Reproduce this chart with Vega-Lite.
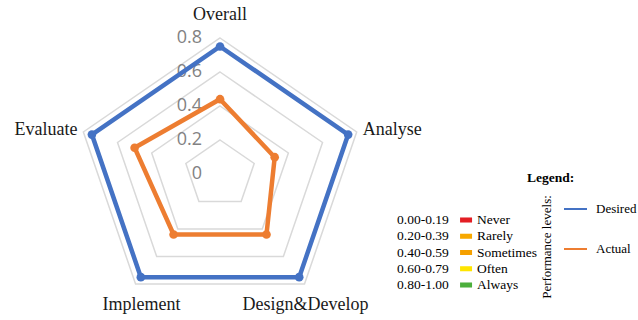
{
  "$schema": "https://vega.github.io/schema/vega-lite/v6.json",
  "width": 638,
  "height": 320,
  "autosize": {"type": "fit", "contains": "padding"},
  "padding": 0,
  "background": "white",
  "config": {"view": {"stroke": null}},
  "datasets": {
    "cats": [
      {"axis": "Overall", "k": 0},
      {"axis": "Analyse", "k": 1},
      {"axis": "Design&Develop", "k": 2},
      {"axis": "Implement", "k": 3},
      {"axis": "Evaluate", "k": 4}
    ],
    "grid": [
      {"level": 0.2, "k": 0}, {"level": 0.2, "k": 1}, {"level": 0.2, "k": 2}, {"level": 0.2, "k": 3}, {"level": 0.2, "k": 4},
      {"level": 0.4, "k": 0}, {"level": 0.4, "k": 1}, {"level": 0.4, "k": 2}, {"level": 0.4, "k": 3}, {"level": 0.4, "k": 4},
      {"level": 0.6, "k": 0}, {"level": 0.6, "k": 1}, {"level": 0.6, "k": 2}, {"level": 0.6, "k": 3}, {"level": 0.6, "k": 4},
      {"level": 0.8, "k": 0}, {"level": 0.8, "k": 1}, {"level": 0.8, "k": 2}, {"level": 0.8, "k": 3}, {"level": 0.8, "k": 4}
    ],
    "ticks": [{"level": 0}, {"level": 0.2}, {"level": 0.4}, {"level": 0.6}, {"level": 0.8}],
    "scores": [
      {"axis": "Overall", "k": 0, "series": "Desired", "value": 0.75},
      {"axis": "Analyse", "k": 1, "series": "Desired", "value": 0.75},
      {"axis": "Design&Develop", "k": 2, "series": "Desired", "value": 0.75},
      {"axis": "Implement", "k": 3, "series": "Desired", "value": 0.75},
      {"axis": "Evaluate", "k": 4, "series": "Desired", "value": 0.75},
      {"axis": "Overall", "k": 0, "series": "Actual", "value": 0.44},
      {"axis": "Analyse", "k": 1, "series": "Actual", "value": 0.32},
      {"axis": "Design&Develop", "k": 2, "series": "Actual", "value": 0.44},
      {"axis": "Implement", "k": 3, "series": "Actual", "value": 0.44},
      {"axis": "Evaluate", "k": 4, "series": "Actual", "value": 0.5}
    ],
    "bands": [
      {"range": "0.00-0.19", "level": "Never"},
      {"range": "0.20-0.39", "level": "Rarely"},
      {"range": "0.40-0.59", "level": "Sometimes"},
      {"range": "0.60-0.79", "level": "Often"},
      {"range": "0.80-1.00", "level": "Always"}
    ]
  },
  "resolve": {"scale": {"y": "independent", "color": "independent"}},
  "layer": [
    {
      "layer": [
        {
          "data": {"name": "grid"},
          "transform": [
            {"calculate": "datum.level*sin(2*PI*datum.k/5)", "as": "px"},
            {"calculate": "datum.level*cos(2*PI*datum.k/5)", "as": "py"}
          ],
          "mark": {"type": "line", "interpolate": "linear-closed", "stroke": "#D9D9D9", "strokeWidth": 1.5},
          "encoding": {
            "x": {"field": "px", "type": "quantitative", "scale": {"domain": [-1.225, 2.327], "nice": false, "zero": false}, "axis": null},
            "y": {"field": "py", "type": "quantitative", "scale": {"domain": [-0.8588, 1.0235], "nice": false, "zero": false}, "axis": null},
            "detail": {"field": "level", "type": "nominal"},
            "order": {"field": "k", "type": "quantitative"}
          }
        },
        {
          "data": {"name": "ticks"},
          "mark": {"type": "text", "align": "right", "baseline": "middle", "dx": -18, "font": "Open Sans", "fontSize": 18, "color": "#828282"},
          "encoding": {
            "x": {"datum": 0, "type": "quantitative", "scale": {"domain": [-1.225, 2.327], "nice": false, "zero": false}, "axis": null},
            "y": {"field": "level", "type": "quantitative", "scale": {"domain": [-0.8588, 1.0235], "nice": false, "zero": false}, "axis": null},
            "text": {"field": "level", "type": "quantitative", "format": ".1~f"}
          }
        },
        {
          "data": {"name": "scores"},
          "transform": [
            {"calculate": "datum.value*sin(2*PI*datum.k/5)", "as": "px"},
            {"calculate": "datum.value*cos(2*PI*datum.k/5)", "as": "py"}
          ],
          "mark": {"type": "line", "interpolate": "linear-closed", "strokeWidth": 4.5},
          "encoding": {
            "x": {"field": "px", "type": "quantitative", "scale": {"domain": [-1.225, 2.327], "nice": false, "zero": false}, "axis": null},
            "y": {"field": "py", "type": "quantitative", "scale": {"domain": [-0.8588, 1.0235], "nice": false, "zero": false}, "axis": null},
            "order": {"field": "k", "type": "quantitative"},
            "color": {
              "field": "series", "type": "nominal",
              "scale": {"domain": ["Desired", "Actual"], "range": ["#4472C4", "#ED7D31"]},
              "legend": {
                "title": null, "orient": "none", "legendX": 563, "legendY": 196.5,
                "symbolType": "stroke", "symbolSize": 529, "symbolStrokeWidth": 2,
                "labelFont": "Liberation Serif", "labelFontSize": 13, "labelColor": "#000000",
                "labelOffset": 8, "rowPadding": 20, "padding": 0
              }
            }
          }
        },
        {
          "data": {"name": "scores"},
          "transform": [
            {"calculate": "datum.value*sin(2*PI*datum.k/5)", "as": "px"},
            {"calculate": "datum.value*cos(2*PI*datum.k/5)", "as": "py"}
          ],
          "mark": {"type": "point", "filled": true, "size": 75, "opacity": 1},
          "encoding": {
            "x": {"field": "px", "type": "quantitative", "scale": {"domain": [-1.225, 2.327], "nice": false, "zero": false}, "axis": null},
            "y": {"field": "py", "type": "quantitative", "scale": {"domain": [-0.8588, 1.0235], "nice": false, "zero": false}, "axis": null},
            "color": {"field": "series", "type": "nominal", "scale": {"domain": ["Desired", "Actual"], "range": ["#4472C4", "#ED7D31"]}, "legend": null}
          }
        },
        {
          "data": {"name": "cats"},
          "transform": [
            {"filter": "datum.axis == 'Overall'"},
            {"calculate": "0.8*sin(2*PI*datum.k/5)", "as": "px"},
            {"calculate": "0.8*cos(2*PI*datum.k/5)", "as": "py"}
          ],
          "mark": {"type": "text", "align": "center", "baseline": "middle", "dy": -23, "font": "Liberation Serif", "fontSize": 18, "color": "#1A1A1A"},
          "encoding": {
            "x": {"field": "px", "type": "quantitative", "scale": {"domain": [-1.225, 2.327], "nice": false, "zero": false}, "axis": null},
            "y": {"field": "py", "type": "quantitative", "scale": {"domain": [-0.8588, 1.0235], "nice": false, "zero": false}, "axis": null},
            "text": {"field": "axis", "type": "nominal"}
          }
        },
        {
          "data": {"name": "cats"},
          "transform": [
            {"filter": "datum.axis == 'Analyse'"},
            {"calculate": "0.8*sin(2*PI*datum.k/5)", "as": "px"},
            {"calculate": "0.8*cos(2*PI*datum.k/5)", "as": "py"}
          ],
          "mark": {"type": "text", "align": "left", "baseline": "middle", "dx": 6, "dy": -2, "font": "Liberation Serif", "fontSize": 18, "color": "#1A1A1A"},
          "encoding": {
            "x": {"field": "px", "type": "quantitative", "scale": {"domain": [-1.225, 2.327], "nice": false, "zero": false}, "axis": null},
            "y": {"field": "py", "type": "quantitative", "scale": {"domain": [-0.8588, 1.0235], "nice": false, "zero": false}, "axis": null},
            "text": {"field": "axis", "type": "nominal"}
          }
        },
        {
          "data": {"name": "cats"},
          "transform": [
            {"filter": "datum.axis == 'Evaluate'"},
            {"calculate": "0.8*sin(2*PI*datum.k/5)", "as": "px"},
            {"calculate": "0.8*cos(2*PI*datum.k/5)", "as": "py"}
          ],
          "mark": {"type": "text", "align": "right", "baseline": "middle", "dx": -6, "dy": -2, "font": "Liberation Serif", "fontSize": 18, "color": "#1A1A1A"},
          "encoding": {
            "x": {"field": "px", "type": "quantitative", "scale": {"domain": [-1.225, 2.327], "nice": false, "zero": false}, "axis": null},
            "y": {"field": "py", "type": "quantitative", "scale": {"domain": [-0.8588, 1.0235], "nice": false, "zero": false}, "axis": null},
            "text": {"field": "axis", "type": "nominal"}
          }
        },
        {
          "data": {"name": "cats"},
          "transform": [
            {"filter": "datum.axis == 'Implement'"},
            {"calculate": "0.8*sin(2*PI*datum.k/5)", "as": "px"},
            {"calculate": "0.8*cos(2*PI*datum.k/5)", "as": "py"}
          ],
          "mark": {"type": "text", "align": "center", "baseline": "middle", "dx": 6, "dy": 21, "font": "Liberation Serif", "fontSize": 18, "color": "#1A1A1A"},
          "encoding": {
            "x": {"field": "px", "type": "quantitative", "scale": {"domain": [-1.225, 2.327], "nice": false, "zero": false}, "axis": null},
            "y": {"field": "py", "type": "quantitative", "scale": {"domain": [-0.8588, 1.0235], "nice": false, "zero": false}, "axis": null},
            "text": {"field": "axis", "type": "nominal"}
          }
        },
        {
          "data": {"name": "cats"},
          "transform": [
            {"filter": "datum.axis == 'Design&Develop'"},
            {"calculate": "0.8*sin(2*PI*datum.k/5)", "as": "px"},
            {"calculate": "0.8*cos(2*PI*datum.k/5)", "as": "py"}
          ],
          "mark": {"type": "text", "align": "center", "baseline": "middle", "dx": 1, "dy": 21, "font": "Liberation Serif", "fontSize": 18, "color": "#1A1A1A"},
          "encoding": {
            "x": {"field": "px", "type": "quantitative", "scale": {"domain": [-1.225, 2.327], "nice": false, "zero": false}, "axis": null},
            "y": {"field": "py", "type": "quantitative", "scale": {"domain": [-0.8588, 1.0235], "nice": false, "zero": false}, "axis": null},
            "text": {"field": "axis", "type": "nominal"}
          }
        },
        {
          "data": {"values": [{"note": "Legend:"}]},
          "mark": {"type": "text", "align": "left", "baseline": "middle", "font": "Liberation Serif", "fontSize": 13.5, "fontWeight": "bold", "color": "#000000"},
          "encoding": {
            "x": {"datum": 1.7094, "type": "quantitative", "scale": {"domain": [-1.225, 2.327], "nice": false, "zero": false}, "axis": null},
            "y": {"datum": -0.0235, "type": "quantitative", "scale": {"domain": [-0.8588, 1.0235], "nice": false, "zero": false}, "axis": null},
            "text": {"field": "note", "type": "nominal"}
          }
        },
        {
          "data": {"values": [{"note": "Performance levels:"}]},
          "mark": {"type": "text", "align": "center", "baseline": "middle", "angle": 270, "font": "Liberation Serif", "fontSize": 13, "color": "#000000"},
          "encoding": {
            "x": {"datum": 1.8207, "type": "quantitative", "scale": {"domain": [-1.225, 2.327], "nice": false, "zero": false}, "axis": null},
            "y": {"datum": -0.4294, "type": "quantitative", "scale": {"domain": [-0.8588, 1.0235], "nice": false, "zero": false}, "axis": null},
            "text": {"field": "note", "type": "nominal"}
          }
        }
      ]
    },
    {
      "data": {"name": "bands"},
      "encoding": {
        "y": {"field": "level", "type": "ordinal", "sort": ["Never", "Rarely", "Sometimes", "Often", "Always"], "scale": {"type": "point", "domain": ["Never", "Rarely", "Sometimes", "Often", "Always"], "range": [220, 285], "padding": 0}, "axis": null}
      },
      "layer": [
        {
          "mark": {"type": "text", "align": "left", "baseline": "middle", "font": "Liberation Serif", "fontSize": 13.5, "color": "#000000"},
          "encoding": {
            "x": {"datum": 0.9855, "type": "quantitative", "scale": {"domain": [-1.225, 2.327], "nice": false, "zero": false}, "axis": null},
            "text": {"field": "range", "type": "nominal"}
          }
        },
        {
          "mark": {"type": "point", "filled": true, "opacity": 1, "size": 144, "shape": "M-1,-0.42H1V0.42H-1Z"},
          "encoding": {
            "x": {"datum": 1.3697, "type": "quantitative", "scale": {"domain": [-1.225, 2.327], "nice": false, "zero": false}, "axis": null},
            "color": {"field": "level", "type": "nominal", "scale": {"domain": ["Never", "Rarely", "Sometimes", "Often", "Always"], "range": ["#E31E24", "#F7A800", "#F5A000", "#FFE500", "#4CAF3C"]}, "legend": null}
          }
        },
        {
          "mark": {"type": "text", "align": "left", "baseline": "middle", "font": "Liberation Serif", "fontSize": 13.5, "color": "#000000"},
          "encoding": {
            "x": {"datum": 1.431, "type": "quantitative", "scale": {"domain": [-1.225, 2.327], "nice": false, "zero": false}, "axis": null},
            "text": {"field": "level", "type": "nominal"}
          }
        }
      ]
    }
  ]
}
